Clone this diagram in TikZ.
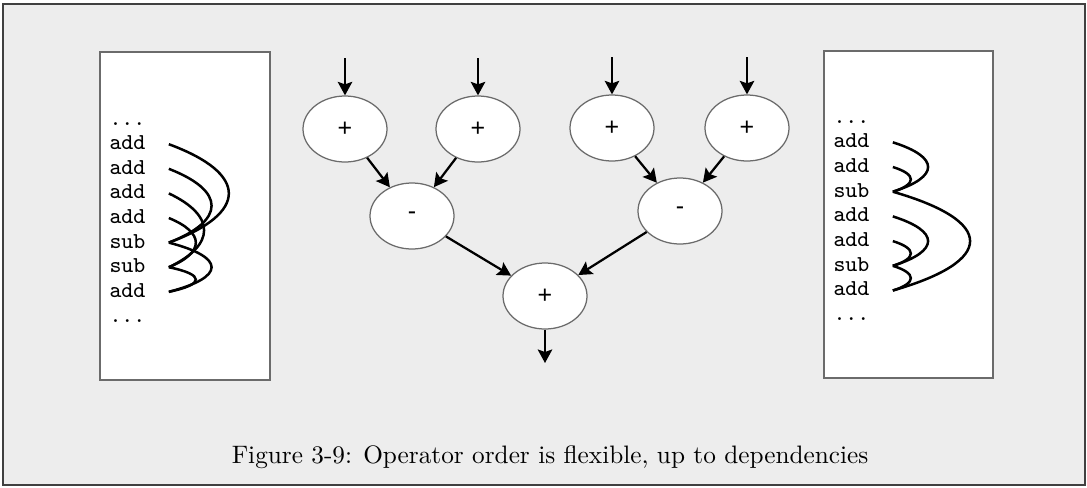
\documentclass[tikz,border=0pt]{standalone}
\usepackage{fontspec}
\newfontfamily\opfont{Liberation Sans}
\usetikzlibrary{shapes.geometric,calc,arrows.meta}

\definecolor{paper}{gray}{0.93}
\definecolor{rim}{gray}{0.42}

\tikzset{
  op/.style={ellipse,draw=rim,fill=white,line width=0.5pt,
    minimum width=33.6pt,minimum height=26.4pt,inner sep=0pt,
    font=\opfont\fontsize{10}{12}\selectfont},
  instr/.style={anchor=base west,inner sep=0pt,
    font=\ttfamily\fontsize{9.1}{11}\selectfont},
  listbox/.style={draw=rim,fill=white,line width=0.5pt},
  flow/.style={->,line width=0.9pt},
  dep/.style={line width=1pt},
}

% arc from one instruction to a later one that uses it
\newcommand\deparc[3]{%
  \coordinate (da) at ([xshift=9.2pt]#1.mid east);
  \coordinate (db) at ([xshift=9.2pt]#2.mid east);
  \draw[dep] (da) .. controls ($(da)!0.3!(db)+(#3,0)$)
    and ($(db)!0.3!(da)+(#3,0)$) .. (db);}

\begin{document}
\begin{tikzpicture}[x=0.4pt,y=-0.4pt,>={Stealth[length=5.4pt,width=5.8pt,inset=1pt]}]
  \useasboundingbox (0,0) rectangle (1087,487);
  \draw[line width=0.8pt,draw=black!75,fill=paper] (3,4) rectangle (1085,485);

  % instruction lists
  \draw[listbox] (100,52) rectangle (270,380);
  \draw[listbox] (824,51) rectangle (993,378);

  \node[instr] (l0) at (109,125) {...};
  \foreach \t [count=\i] in {add,add,add,add,sub,sub,add}
    \node[instr] (l\i) at (109,{125+24.6*\i}) {\t};
  \node[instr] (l8) at (109,322) {...};

  \node[instr] (r0) at (833,123) {...};
  \foreach \t [count=\i] in {add,add,sub,add,add,sub,add}
    \node[instr] (r\i) at (833,{123+24.7*\i}) {\t};
  \node[instr] (r8) at (833,320) {...};

  % dependencies, first ordering
  \deparc{l1}{l5}{80}
  \deparc{l2}{l5}{57}
  \deparc{l3}{l6}{47}
  \deparc{l4}{l6}{36}
  \deparc{l5}{l7}{57}
  \deparc{l6}{l7}{36}

  % dependencies, second ordering
  \deparc{r1}{r3}{47}
  \deparc{r2}{r3}{24}
  \deparc{r4}{r6}{47}
  \deparc{r5}{r6}{24}
  \deparc{r3}{r7}{103}
  \deparc{r6}{r7}{24}

  % expression tree
  \node[op] (p1) at (345,129) {+};
  \node[op] (p2) at (478,129) {+};
  \node[op] (p3) at (612,128) {+};
  \node[op] (p4) at (747,128) {+};
  \node[op] (m1) at (412,216) {-};
  \node[op] (m2) at (680,211) {-};
  \node[op] (s) at (545,296) {+};

  \foreach \n in {1,...,4} {
    \coordinate (in\n) at ($(p\n)+(0,-71)$);
    \draw[flow] (in\n) -- (p\n);
  }
  \coordinate (res) at (545,363);

  \draw[flow] (p1) -- (m1);
  \draw[flow] (p2) -- (m1);
  \draw[flow] (p3) -- (m2);
  \draw[flow] (p4) -- (m2);
  \draw[flow] (m1) -- (s);
  \draw[flow] (m2) -- (s);
  \draw[flow] (s) -- (res);

  \node[anchor=base,inner sep=0pt,font=\fontsize{10.1}{12}\selectfont] (cap)
    at (550,463) {Figure 3-9: Operator order is flexible, up to dependencies};
\end{tikzpicture}
\end{document}
